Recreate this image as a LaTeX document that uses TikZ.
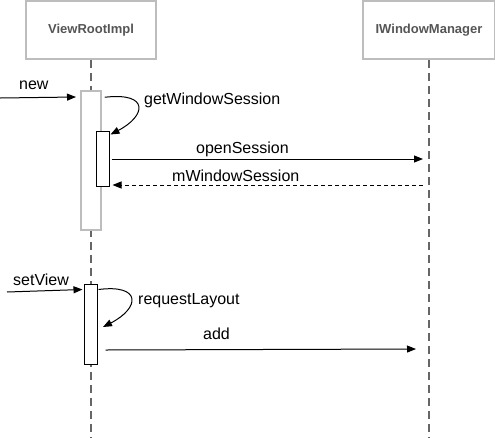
\documentclass[tikz,border=0pt]{standalone}
\usepackage{fontspec}
\setmainfont{Liberation Sans}
\usetikzlibrary{arrows.meta}
\definecolor{boxgray}{HTML}{BDBDBD}
\definecolor{linegray}{HTML}{666666}
\definecolor{headtext}{HTML}{555555}
\tikzset{
  head/.style={draw=boxgray,line width=1.5pt,minimum width=130pt,minimum height=58pt,inner sep=0pt,text=headtext,font=\fontsize{13}{15}\selectfont\bfseries},
  life/.style={draw=linegray,line width=2.3pt,dash pattern=on 8pt off 5pt},
  act/.style={draw,fill=white,line width=1pt,inner sep=0pt},
  msg/.style={-{Triangle[length=9pt,width=7pt]},line width=1pt},
  reply/.style={msg,dash pattern=on 4pt off 3pt},
  lbl/.style={font=\fontsize{16}{19}\selectfont,inner sep=0pt,anchor=base west}
}
\begin{document}
\begin{tikzpicture}[x=1pt,y=-1pt]
\useasboundingbox (0,0) rectangle (495,437);

% heads and lifelines
\node[head] (vri) at (91,30) {ViewRootImpl};
\node[head,minimum width=132pt] (iwm) at (429,30) {IWindowManager};
\coordinate (vriend) at (91,437);
\coordinate (iwmend) at (429,437);
\draw[life] (vri.south) -- (vriend);
\draw[life] (iwm.south) -- (iwmend);

% activations
\node[act,draw=boxgray,line width=1.5pt,minimum width=20pt,minimum height=139pt] (act1) at (91,160.5) {};
\node[act,minimum width=13pt,minimum height=55pt] (act2) at (102.5,158.5) {};
\node[act,minimum width=13pt,minimum height=80pt] (act3) at (90.5,324) {};

% new / getWindowSession
\coordinate (newin) at (0,98);
\draw[msg] (newin) -- (76,97);
\node[lbl] (lnew) at (19,89) {new};
\draw[msg] ([xshift=3pt,yshift=-7pt]act1.north east) .. controls (150,92) and (146,116) .. ([xshift=1pt,yshift=-4pt]act2.north east);
\node[lbl] (lgws) at (144,104) {getWindowSession};

% openSession / mWindowSession
\coordinate (osend) at (423,159);
\draw[msg] ([xshift=2pt]act2.east |- osend) -- (osend);
\node[lbl] (los) at (196,153) {openSession};
\coordinate (mwsbeg) at (423,185);
\draw[reply] (mwsbeg) -- ([xshift=3pt]act2.east |- mwsbeg);
\node[lbl] (lmws) at (172,181) {mWindowSession};

% setView / requestLayout / add
\coordinate (svin) at (7,292);
\draw[msg] (svin) -- ([xshift=-1pt,yshift=-6pt]act3.north west);
\node[lbl] (lsv) at (13,285) {setView};
\draw[msg] ([xshift=1pt,yshift=-6pt]act3.north east) .. controls (142,284) and (140,308) .. (103,327);
\node[lbl] (lrl) at (138,304) {requestLayout};
\coordinate (addend) at (416,349);
\draw[msg] ([xshift=8pt,yshift=-1pt]act3.east |- addend) -- (addend);
\node[lbl] (ladd) at (203,339) {add};
\end{tikzpicture}
\end{document}
